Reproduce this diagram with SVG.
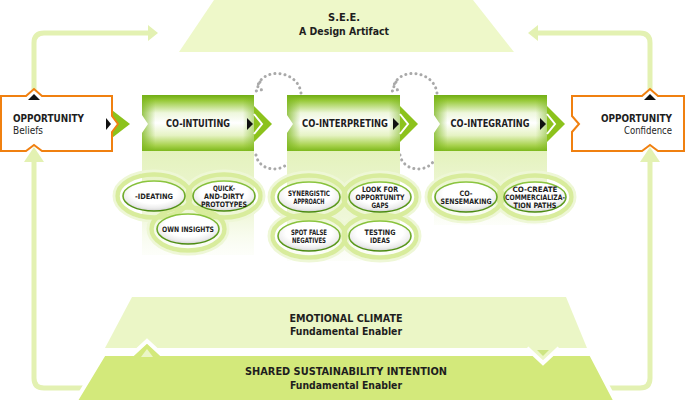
<svg xmlns="http://www.w3.org/2000/svg" width="685" height="400" viewBox="0 0 685 400">
<defs>
<style>
.t{font-family:"DejaVu Sans Condensed","Liberation Sans",sans-serif;fill:#1e1e1e}
.h{font-size:11px;font-weight:bold;text-anchor:middle}
.bx{font-size:10px;font-weight:bold;text-anchor:middle}
.el{font-size:7.4px;font-weight:bold;text-anchor:middle}
.op{font-size:11px;font-weight:bold}
.opr{font-size:10.5px}
.loop{fill:none;stroke:#e3f1b2;stroke-width:5}
.lh{fill:#e3f1b2}
.dot{fill:none;stroke:#a9a9a9;stroke-width:3;stroke-linecap:round;stroke-dasharray:0.1 5}
.ring{fill:none;stroke:#d8ec9c;stroke-width:4.5}
.halo{fill:none;stroke:#eef7d6;stroke-width:3}
.inner{fill:url(#gEl);stroke:url(#gElS);stroke-width:1.6}
.chev{fill:#8cc21c}
.blk{fill:#111}
.gbox{fill:url(#gBox)}
.gboxh{fill:url(#gBoxH)}
.obox{fill:#fff;stroke:#f08010;stroke-width:2}
.col{fill:url(#gCol)}
</style>
<linearGradient id="gBox" x1="0" y1="0" x2="0" y2="1">
<stop offset="0" stop-color="#6eab12"/>
<stop offset="0.1" stop-color="#98ca3a"/>
<stop offset="0.32" stop-color="#eef7dc"/>
<stop offset="0.5" stop-color="#ffffff"/>
<stop offset="0.72" stop-color="#e6f3c4"/>
<stop offset="0.9" stop-color="#a8d24e"/>
<stop offset="1" stop-color="#7db81c"/>
</linearGradient>
<linearGradient id="gBoxH" x1="0" y1="0" x2="1" y2="0">
<stop offset="0" stop-color="#7ab51d" stop-opacity="0.75"/>
<stop offset="0.12" stop-color="#7ab51d" stop-opacity="0"/>
<stop offset="0.9" stop-color="#7ab51d" stop-opacity="0"/>
<stop offset="1" stop-color="#7ab51d" stop-opacity="0.5"/>
</linearGradient>
<linearGradient id="gCol" x1="0" y1="0" x2="0" y2="1">
<stop offset="0" stop-color="#e4f2bd"/>
<stop offset="0.6" stop-color="#eff7d8"/>
<stop offset="1" stop-color="#f8fcee" stop-opacity="0.3"/>
</linearGradient>
<radialGradient id="gEl" cx="0.5" cy="0.38" r="0.62">
<stop offset="0" stop-color="#ffffff"/>
<stop offset="0.6" stop-color="#ffffff"/>
<stop offset="0.85" stop-color="#ececec"/>
<stop offset="1" stop-color="#cfcfcf"/>
</radialGradient>
<linearGradient id="gElS" x1="0" y1="0" x2="0" y2="1">
<stop offset="0" stop-color="#8cc63f"/>
<stop offset="1" stop-color="#4a8a10"/>
</linearGradient>
</defs>

<g id="connectors">
<path class="loop" d="M34,90 V43 Q34,33 44,33 H149"/>
<polygon class="lh" points="148,25 158,33 148,41"/>
<path class="loop" d="M650,90 V43 Q650,33 640,33 H537"/>
<polygon class="lh" points="538,25 528,33 538,41"/>
<path class="loop" d="M34,158 V378 Q34,388 44,388 H640 Q650,388 650,378 V158"/>
<polygon class="lh" points="24,162 34,147 44,162"/>
<polygon class="lh" points="640,162 650,147 660,162"/>
<path class="dot" d="M301,93 C298,70 262,66 257,88"/>
<path class="dot" d="M260,82 L256,91 L265,89"/>
<path class="dot" d="M437,93 C434,70 398,66 393,88"/>
<path class="dot" d="M396,82 L392,91 L401,89"/>
<path class="dot" d="M256,155 C259,171 281,173 289,162"/>
<path class="dot" d="M400,155 C403,171 425,173 433,162"/>
</g>

<g id="see">
<polygon points="214,0 473,0 514,52 179,52" fill="#eef8c9"/>
<text class="t h" x="344" y="21">S.E.E.</text>
<text class="t h" x="344" y="35" textLength="90" lengthAdjust="spacingAndGlyphs">A Design Artifact</text>
</g>

<g id="emotional-climate">
<polygon points="132,297 566,297 587,348 105,348" fill="#ebf6c6"/>
<text class="t h" x="346" y="322" textLength="113" lengthAdjust="spacingAndGlyphs">EMOTIONAL CLIMATE</text>
<text class="t h" x="346" y="335" textLength="112" lengthAdjust="spacingAndGlyphs">Fundamental Enabler</text>
</g>

<g id="shared-intention">
<path d="M104,354 H133 L147,341 L161,354 H591 L616,402 H75 Z" fill="#d3e97b" stroke="#fff" stroke-width="4"/>
<path d="M527,348 L543,363 L559,348" fill="#ebf6c6" stroke="#fff" stroke-width="4"/>
<polygon points="141,357 147,349 153,357" fill="#ebf6c6"/>
<polygon points="537,350 549,350 543,356" fill="#cde583"/>
<text class="t h" x="346" y="375" textLength="202" lengthAdjust="spacingAndGlyphs">SHARED SUSTAINABILITY INTENTION</text>
<text class="t h" x="346" y="389" textLength="112" lengthAdjust="spacingAndGlyphs">Fundamental Enabler</text>
</g>

<g id="columns">
<rect class="col" x="142" y="151" width="112" height="104"/>
<rect class="col" x="287" y="151" width="113" height="110"/>
<rect class="col" x="434" y="151" width="113" height="74"/>
</g>

<g id="opp-beliefs">
<polygon class="chev" points="108,107 130,124 108,141"/>
<path class="obox" d="M1,96 H26 L34,89 L42,96 H112 V116 L118,124 L112,132 V151 H42 L34,145 L26,151 H1 Z"/>
<polygon class="blk" points="28,100 34,94 40,100"/>
<polygon class="blk" points="106,118 111,124 106,130"/>
<text class="t op" x="13" y="122" textLength="71" lengthAdjust="spacingAndGlyphs">OPPORTUNITY</text>
<text class="t opr" x="13" y="134" textLength="30" lengthAdjust="spacingAndGlyphs">Beliefs</text>
</g>

<g id="co-intuiting">
<polygon class="chev" points="253,105 272,124 253,143"/>
<path class="gbox" d="M142,95 H254 V151 H142 V133 L148,124 L142,115 Z"/>
<path class="gboxh" d="M142,95 H254 V151 H142 V133 L148,124 L142,115 Z"/>
<polyline points="254,114 262,124 254,134" fill="none" stroke="#fff" stroke-width="2"/>
<polygon class="blk" points="247,118 253,124 247,130"/>
<text class="t bx" x="198" y="127" textLength="64" lengthAdjust="spacingAndGlyphs">CO-INTUITING</text>
</g>

<g id="co-interpreting">
<polygon class="chev" points="399,105 418,124 399,143"/>
<path class="gbox" d="M287,95 H400 V151 H287 V133 L293,124 L287,115 Z"/>
<path class="gboxh" d="M287,95 H400 V151 H287 V133 L293,124 L287,115 Z"/>
<polyline points="400,114 408,124 400,134" fill="none" stroke="#fff" stroke-width="2"/>
<polygon class="blk" points="393,118 399,124 393,130"/>
<text class="t bx" x="345" y="127" textLength="86" lengthAdjust="spacingAndGlyphs">CO-INTERPRETING</text>
</g>

<g id="co-integrating">
<polygon class="chev" points="546,105 565,124 546,143"/>
<path class="gbox" d="M434,95 H547 V151 H434 V133 L440,124 L434,115 Z"/>
<path class="gboxh" d="M434,95 H547 V151 H434 V133 L440,124 L434,115 Z"/>
<polyline points="547,114 555,124 547,134" fill="none" stroke="#fff" stroke-width="2"/>
<polygon class="blk" points="540,118 546,124 540,130"/>
<text class="t bx" x="490" y="127" textLength="79" lengthAdjust="spacingAndGlyphs">CO-INTEGRATING</text>
</g>

<g id="opp-confidence">
<path class="obox" d="M572,96 H642 L650,89 L658,96 H684 V151 H658 L650,145 L642,151 H572 V132 L579,124 L572,116 Z"/>
<polygon class="blk" points="644,100 650,94 656,100"/>
<text class="t op" x="672" y="122" text-anchor="end" textLength="71" lengthAdjust="spacingAndGlyphs">OPPORTUNITY</text>
<text class="t opr" x="672" y="134" text-anchor="end" textLength="48" lengthAdjust="spacingAndGlyphs">Confidence</text>
</g>

<g id="rings">
<ellipse class="halo" cx="154" cy="196" rx="40" ry="25"/>
<ellipse class="halo" cx="224" cy="196" rx="40" ry="25"/>
<ellipse class="halo" cx="188" cy="229" rx="40" ry="25"/>
<ellipse class="halo" cx="309" cy="197" rx="40" ry="25"/>
<ellipse class="halo" cx="380" cy="197" rx="40" ry="25"/>
<ellipse class="halo" cx="309" cy="236" rx="40" ry="25"/>
<ellipse class="halo" cx="380" cy="236" rx="40" ry="25"/>
<ellipse class="halo" cx="466" cy="197" rx="40" ry="25"/>
<ellipse class="halo" cx="535" cy="197" rx="40" ry="25"/>
<ellipse class="ring" cx="154" cy="196" rx="36.5" ry="21.5"/>
<ellipse class="ring" cx="224" cy="196" rx="36.5" ry="21.5"/>
<ellipse class="ring" cx="188" cy="229" rx="36.5" ry="21.5"/>
<ellipse class="ring" cx="309" cy="197" rx="36.5" ry="21.5"/>
<ellipse class="ring" cx="380" cy="197" rx="36.5" ry="21.5"/>
<ellipse class="ring" cx="309" cy="236" rx="36.5" ry="21.5"/>
<ellipse class="ring" cx="380" cy="236" rx="36.5" ry="21.5"/>
<ellipse class="ring" cx="466" cy="197" rx="36.5" ry="21.5"/>
<ellipse class="ring" cx="535" cy="197" rx="36.5" ry="21.5"/>
</g>

<g id="ideating">
<ellipse class="inner" cx="154" cy="196" rx="31" ry="15"/>
<text class="t el" x="154" y="199" textLength="38" lengthAdjust="spacingAndGlyphs">-IDEATING</text>
</g>
<g id="quick-dirty">
<ellipse class="inner" cx="224" cy="196" rx="31" ry="15"/>
<text class="t el" x="224" y="191" textLength="22" lengthAdjust="spacingAndGlyphs">QUICK-</text>
<text class="t el" x="224" y="199" textLength="40" lengthAdjust="spacingAndGlyphs">AND-DIRTY</text>
<text class="t el" x="224" y="207" textLength="46" lengthAdjust="spacingAndGlyphs">PROTOTYPES</text>
</g>
<g id="own-insights">
<ellipse class="inner" cx="188" cy="229" rx="31" ry="15"/>
<text class="t el" x="188" y="232" textLength="52" lengthAdjust="spacingAndGlyphs">OWN INSIGHTS</text>
</g>
<g id="synergistic">
<ellipse class="inner" cx="309" cy="197" rx="31" ry="15"/>
<text class="t el" x="309" y="196" textLength="42" lengthAdjust="spacingAndGlyphs">SYNERGISTIC</text>
<text class="t el" x="309" y="204" textLength="31" lengthAdjust="spacingAndGlyphs">APPROACH</text>
</g>
<g id="look-for">
<ellipse class="inner" cx="380" cy="197" rx="31" ry="15"/>
<text class="t el" x="380" y="192" textLength="36" lengthAdjust="spacingAndGlyphs">LOOK FOR</text>
<text class="t el" x="380" y="200" textLength="49" lengthAdjust="spacingAndGlyphs">OPPORTUNITY</text>
<text class="t el" x="380" y="208" textLength="17" lengthAdjust="spacingAndGlyphs">GAPS</text>
</g>
<g id="spot-false">
<ellipse class="inner" cx="309" cy="236" rx="31" ry="15"/>
<text class="t el" x="309" y="235" textLength="36" lengthAdjust="spacingAndGlyphs">SPOT FALSE</text>
<text class="t el" x="309" y="243" textLength="34" lengthAdjust="spacingAndGlyphs">NEGATIVES</text>
</g>
<g id="testing">
<ellipse class="inner" cx="380" cy="236" rx="31" ry="15"/>
<text class="t el" x="380" y="235" textLength="31" lengthAdjust="spacingAndGlyphs">TESTING</text>
<text class="t el" x="380" y="243" textLength="20" lengthAdjust="spacingAndGlyphs">IDEAS</text>
</g>
<g id="sensemaking">
<ellipse class="inner" cx="466" cy="197" rx="31" ry="15"/>
<text class="t el" x="466" y="196" textLength="13" lengthAdjust="spacingAndGlyphs">CO-</text>
<text class="t el" x="466" y="204" textLength="51" lengthAdjust="spacingAndGlyphs">SENSEMAKING</text>
</g>
<g id="co-create">
<ellipse class="inner" cx="535" cy="197" rx="31" ry="15"/>
<text class="t el" x="535" y="192" textLength="45" lengthAdjust="spacingAndGlyphs">CO-CREATE</text>
<text class="t el" x="535" y="200" textLength="60" lengthAdjust="spacingAndGlyphs">COMMERCIALIZA-</text>
<text class="t el" x="535" y="208" textLength="43" lengthAdjust="spacingAndGlyphs">TION PATHS</text>
</g>
</svg>
